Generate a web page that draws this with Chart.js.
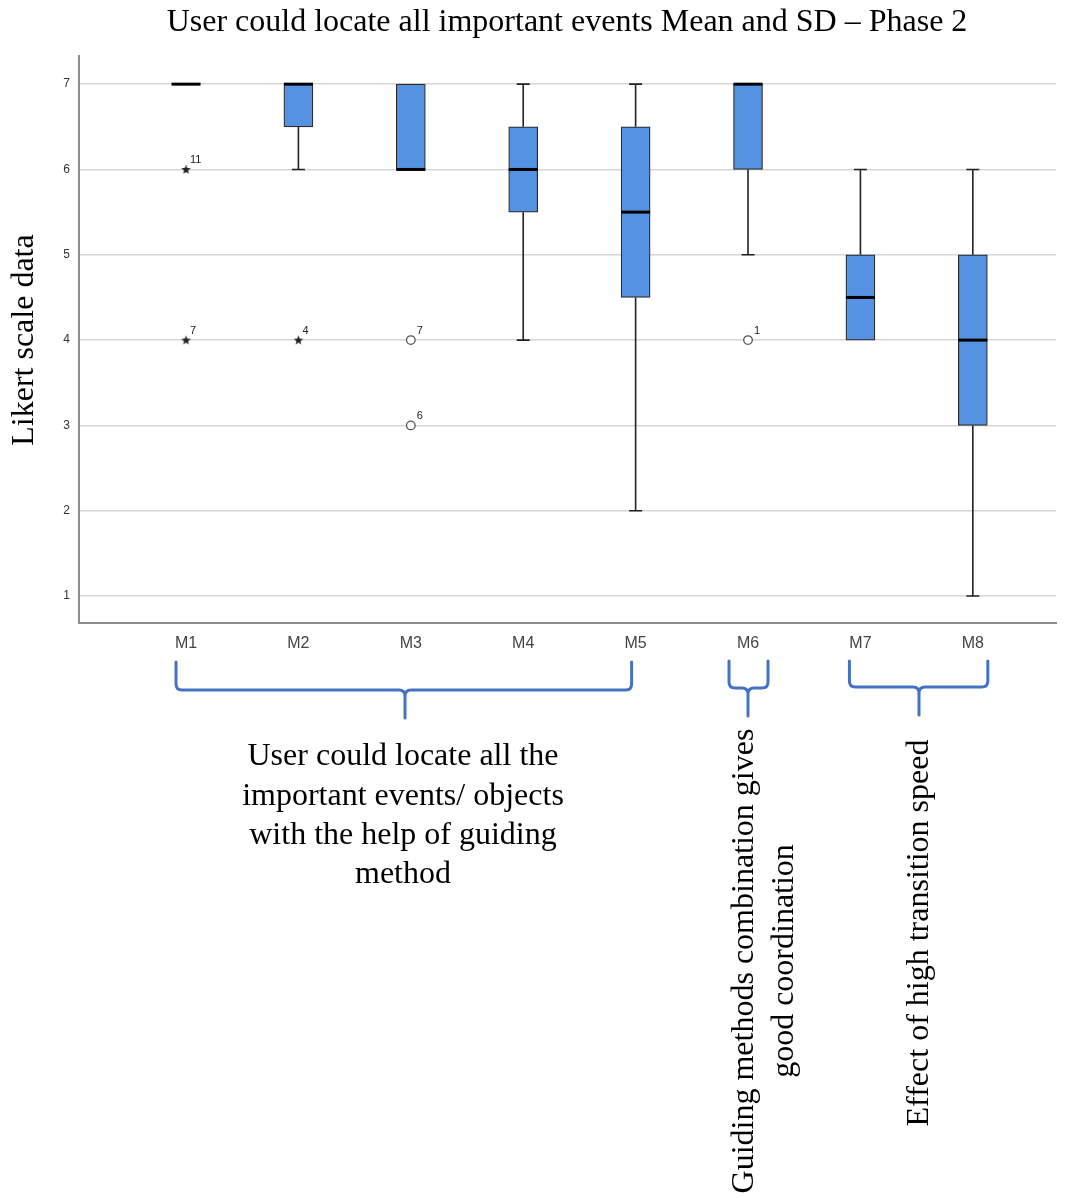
<!DOCTYPE html>
<html>
<head>
<meta charset="utf-8">
<script src="https://cdn.jsdelivr.net/npm/chart.js@4.4.1/dist/chart.umd.min.js"></script>
<style>
  html, body { margin: 0; padding: 0; background: #ffffff; }
  #wrap { width: 1070px; height: 1198px; position: relative; }
</style>
</head>
<body>
<div id="wrap"><canvas id="boxChart"></canvas></div>
<script>
const categories = ["M1", "M2", "M3", "M4", "M5", "M6", "M7", "M8"];
const whiskerLow = [7, 6, 6, 4, 2, 5, 4, 1];
const q1 = [7, 6.5, 6, 5.5, 4.5, 6, 4, 3];
const medians = [7, 7, 6, 6, 5.5, 7, 4.5, 4];
const q3 = [7, 7, 7, 6.5, 6.5, 7, 5, 5];
const whiskerHigh = [7, 7, 7, 7, 7, 7, 6, 6];

// outliers: category position (1-based), value, case number
const extremePos = [1, 1, 2];
const extremeVals = [6, 4, 4];
const extremeCase = ["11", "7", "4"];
const outlierPos = [3, 3, 6];
const outlierVals = [4, 3, 4];
const outlierCase = ["7", "6", "1"];

const yTicks = [1, 2, 3, 4, 5, 6, 7];

const serif = "'Liberation Serif', 'Times New Roman', serif";
const sans = "'Liberation Sans', Arial, sans-serif";

// small filled star used as point style for extreme values
const starImg = document.createElement("canvas");
starImg.width = 11;
starImg.height = 11;
(function () {
  const c = starImg.getContext("2d");
  c.fillStyle = "#222";
  c.beginPath();
  for (let k = 0; k < 10; k++) {
    const r = k % 2 === 0 ? 5 : 2.1;
    const a = -Math.PI / 2 + k * Math.PI / 5;
    const px = 5.5 + r * Math.cos(a);
    const py = 5.8 + r * Math.sin(a);
    if (k === 0) c.moveTo(px, py); else c.lineTo(px, py);
  }
  c.closePath();
  c.fill();
})();

const boxPlugin = {
  id: "boxParts",
  beforeDatasetsDraw(chart) {
    const { ctx, scales: { x, y } } = chart;
    ctx.save();
    ctx.strokeStyle = "#222";
    ctx.lineWidth = 1.6;
    categories.forEach((c, i) => {
      const cx = x.getPixelForValue(i + 1);
      if (whiskerHigh[i] > q3[i]) {
        ctx.beginPath();
        ctx.moveTo(cx, y.getPixelForValue(q3[i]));
        ctx.lineTo(cx, y.getPixelForValue(whiskerHigh[i]));
        ctx.moveTo(cx - 6.5, y.getPixelForValue(whiskerHigh[i]));
        ctx.lineTo(cx + 6.5, y.getPixelForValue(whiskerHigh[i]));
        ctx.stroke();
      }
      if (whiskerLow[i] < q1[i]) {
        ctx.beginPath();
        ctx.moveTo(cx, y.getPixelForValue(q1[i]));
        ctx.lineTo(cx, y.getPixelForValue(whiskerLow[i]));
        ctx.moveTo(cx - 6.5, y.getPixelForValue(whiskerLow[i]));
        ctx.lineTo(cx + 6.5, y.getPixelForValue(whiskerLow[i]));
        ctx.stroke();
      }
    });
    ctx.restore();
  },
  afterDatasetsDraw(chart) {
    const { ctx, scales: { x, y } } = chart;
    ctx.save();
    ctx.strokeStyle = "#000";
    ctx.lineWidth = 3;
    medians.forEach((m, i) => {
      const cx = x.getPixelForValue(i + 1);
      const my = y.getPixelForValue(m);
      ctx.beginPath();
      ctx.moveTo(cx - 14.5, my);
      ctx.lineTo(cx + 14.5, my);
      ctx.stroke();
    });
    // case numbers beside outliers
    ctx.fillStyle = "#222";
    ctx.font = "11px " + sans;
    ctx.textAlign = "left";
    ctx.textBaseline = "alphabetic";
    extremePos.forEach((p, k) => {
      ctx.fillText(extremeCase[k], x.getPixelForValue(p) + 4, y.getPixelForValue(extremeVals[k]) - 6);
    });
    outlierPos.forEach((p, k) => {
      ctx.fillText(outlierCase[k], x.getPixelForValue(p) + 6, y.getPixelForValue(outlierVals[k]) - 6);
    });
    ctx.restore();
  },
  afterDraw(chart) {
    const { ctx, scales: { x } } = chart;
    ctx.save();
    ctx.fillStyle = "#000";
    ctx.textAlign = "center";
    ctx.textBaseline = "middle";

    ctx.font = "32px " + serif;
    ctx.fillText("User could locate all important events Mean and SD \u2013 Phase 2", 567, 23);

    ctx.save();
    ctx.translate(25, 340);
    ctx.rotate(-Math.PI / 2);
    ctx.font = "32px " + serif;
    ctx.fillText("Likert scale data", 0, 0);
    ctx.restore();

    // braces grouping the methods
    ctx.strokeStyle = "#4472c4";
    ctx.lineWidth = 3;
    ctx.lineCap = "round";
    const brace = (x1, x2, xm, yTop, yMid, yTip) => {
      const r = 6;
      ctx.beginPath();
      ctx.moveTo(x1, yTop);
      ctx.lineTo(x1, yMid - r);
      ctx.quadraticCurveTo(x1, yMid, x1 + r, yMid);
      ctx.lineTo(xm - r, yMid);
      ctx.quadraticCurveTo(xm, yMid, xm, yMid + r);
      ctx.lineTo(xm, yTip);
      ctx.moveTo(x2, yTop);
      ctx.lineTo(x2, yMid - r);
      ctx.quadraticCurveTo(x2, yMid, x2 - r, yMid);
      ctx.lineTo(xm + r, yMid);
      ctx.quadraticCurveTo(xm, yMid, xm, yMid + r);
      ctx.stroke();
    };
    brace(x.getPixelForValue(1) - 10, x.getPixelForValue(5) - 4, 405, 662, 690, 718);
    brace(x.getPixelForValue(6) - 19, x.getPixelForValue(6) + 20, 748, 661, 688, 716);
    brace(x.getPixelForValue(7) - 11, x.getPixelForValue(8) + 15, 919, 661, 687, 715);

    ctx.font = "32px " + serif;
    const block = ["User could locate all the", "important events/ objects", "with the help of guiding", "method"];
    block.forEach((t, k) => ctx.fillText(t, 403, 757 + k * 39.3));

    ctx.save();
    ctx.translate(745, 961);
    ctx.rotate(-Math.PI / 2);
    ctx.fillText("Guiding methods combination gives", 0, 0);
    ctx.fillText("good coordination", 0, 40);
    ctx.restore();

    ctx.save();
    ctx.translate(920, 933);
    ctx.rotate(-Math.PI / 2);
    ctx.fillText("Effect of high transition speed", 0, 0);
    ctx.restore();

    ctx.restore();
  }
};

const boxData = categories.map((c, i) => ({ x: i + 1, y: [q1[i], q3[i]] }));

new Chart(document.getElementById("boxChart"), {
  type: "bar",
  data: {
    datasets: [
      {
        label: "IQR",
        data: boxData,
        backgroundColor: "#5592e2",
        borderColor: "#2b2b2b",
        borderWidth: 1.2,
        borderSkipped: false,
        barThickness: 29,
        grouped: false
      },
      {
        type: "scatter",
        label: "Extreme",
        data: extremePos.map((p, k) => ({ x: p, y: extremeVals[k] })),
        pointStyle: starImg,
        pointRadius: 5
      },
      {
        type: "scatter",
        label: "Outlier",
        data: outlierPos.map((p, k) => ({ x: p, y: outlierVals[k] })),
        pointStyle: "circle",
        pointRadius: 4.3,
        borderColor: "#555",
        backgroundColor: "#ffffff",
        borderWidth: 1.3
      }
    ]
  },
  options: {
    responsive: true,
    maintainAspectRatio: false,
    animation: false,
    layout: { padding: { left: 0, right: 14, top: 56, bottom: 0 } },
    plugins: {
      legend: { display: false },
      tooltip: { enabled: false }
    },
    scales: {
      x: {
        type: "linear",
        offset: false,
        min: 0.048,
        max: 8.74,
        afterBuildTicks: (scale) => { scale.ticks = categories.map((c, i) => ({ value: i + 1 })); },
        afterFit: (scale) => { scale.height = 575; },
        grid: { display: false, drawTicks: false, offset: false },
        border: { display: true, color: "#8c8c8c", width: 2 },
        ticks: {
          autoSkip: false,
          maxRotation: 0,
          padding: 11,
          color: "#444",
          font: { family: sans, size: 16 },
          callback: (v) => categories[v - 1] || ""
        }
      },
      y: {
        min: 0.684,
        max: 7.33,
        afterBuildTicks: (scale) => { scale.ticks = yTicks.map(v => ({ value: v })); },
        afterFit: (scale) => { scale.width = 79; },
        grid: { color: "#d6d6d6", lineWidth: 1.6, drawTicks: false },
        border: { display: true, color: "#8c8c8c", width: 2 },
        ticks: {
          padding: 9,
          color: "#333",
          font: { family: sans, size: 12 }
        }
      }
    }
  },
  plugins: [boxPlugin]
});
</script>
</body>
</html>
